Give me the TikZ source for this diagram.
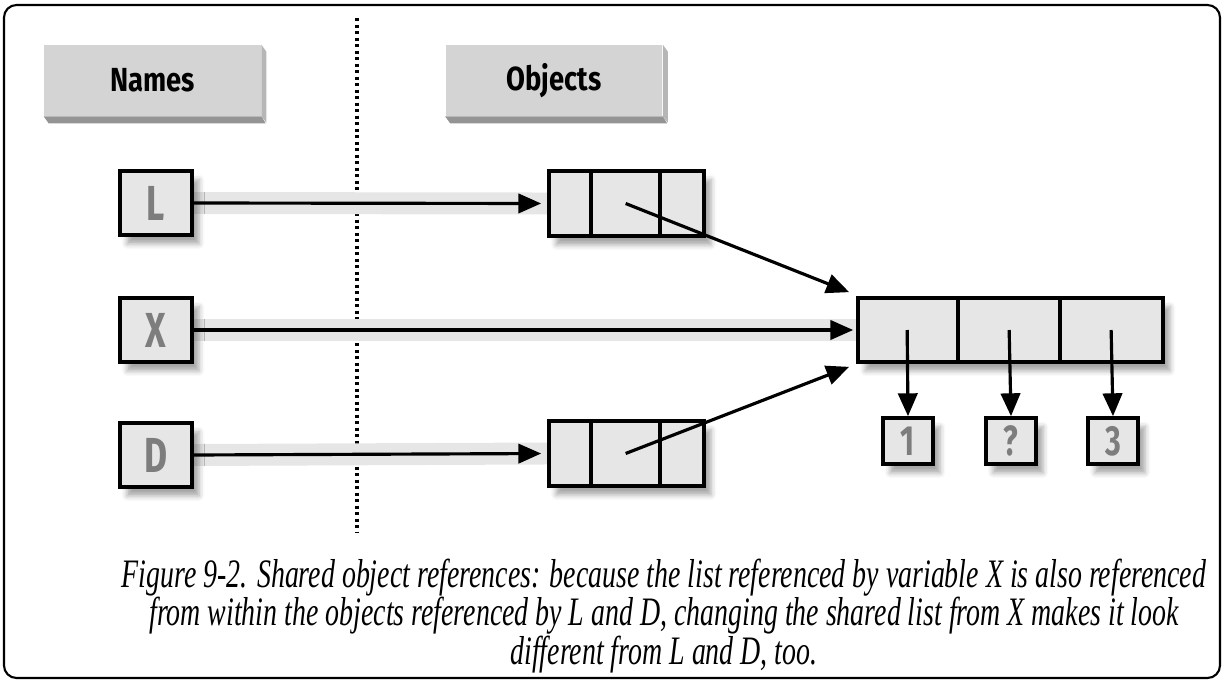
\documentclass[tikz,border=0pt]{standalone}
\usepackage{fontspec}
\newfontfamily\lblfont[FakeStretch=0.82]{Fira Sans}
\newfontfamily\letfont[FakeStretch=0.72]{Fira Sans}
\newfontfamily\capfont[FakeStretch=0.69]{Liberation Serif}
\usetikzlibrary{arrows.meta,shadows.blur,backgrounds}
\definecolor{cellgray}{HTML}{E6E6E6}
\definecolor{headgray}{HTML}{D4D4D4}
\definecolor{bevelbot}{HTML}{949494}
\definecolor{bevelside}{HTML}{B6B6B6}
\definecolor{lettergray}{HTML}{7D7D7D}
\tikzset{
  header/.style={fill=headgray,minimum width=4.34cm,minimum height=1.42cm,inner sep=0pt,
    font=\lblfont\bfseries\fontsize{19}{20}\selectfont},
  shade box/.style={blur shadow={shadow xshift=4pt,shadow yshift=-5pt,shadow blur radius=3pt,shadow opacity=35}},
  namebox/.style={draw,line width=2.1pt,fill=cellgray,minimum width=1.44cm,minimum height=1.28cm,
    inner sep=0pt,text=lettergray,font=\letfont\bfseries\fontsize{28}{30}\selectfont,shade box},
  listbox/.style={draw,line width=2.1pt,fill=cellgray,inner sep=0pt,shade box},
  valbox/.style={draw,line width=2.1pt,fill=cellgray,minimum width=1.0cm,minimum height=0.92cm,
    inner sep=0pt,text=lettergray,font=\letfont\bfseries\fontsize{24}{26}\selectfont,shade box},
  ptr/.style={line width=1.8pt,-{Triangle[length=13pt,width=11pt]}},
  band/.style={cellgray,line width=12.5pt},
  divider/.style={line width=2.1pt}
}

\begin{document}
\begin{tikzpicture}[x=0.02cm,y=-0.02cm]
  \useasboundingbox (0,0) rectangle (1225,683);
  \draw[line width=1.2pt,rounded corners=0.25cm] (4,5) rectangle (1220,678);

  % headings
  \node[header] (names) at (152.5,80.5) {Names};
  \node[header] (objects) at (554,80.5) {Objects};
  \foreach \h in {names,objects} {
    \fill[bevelside] (\h.north east) -- ++(5,7) -- ++(0,71) -- (\h.south east) -- cycle;
    \fill[bevelbot] (\h.south west) -- ++(5,7) -- ++(217,0) -- (\h.south east) -- cycle;
  }

  % names
  \node[namebox] (L) at (156,203) {L};
  \node[namebox] (X) at (156,330) {X};
  \node[namebox] (D) at (156,455) {D};

  % objects
  \node[listbox,minimum width=3.1cm,minimum height=1.3cm] (lobj) at (626.5,203.5) {};
  \node[listbox,minimum width=3.1cm,minimum height=1.3cm] (dobj) at (626.5,453.5) {};
  \node[listbox,minimum width=6.1cm,minimum height=1.28cm] (xobj) at (1010.5,330) {};
  \foreach \o in {lobj,dobj}
    \foreach \dx in {0.88,2.26}
      \draw[divider] ([xshift=\dx cm]\o.north west) -- ([xshift=\dx cm]\o.south west);
  \foreach \dx in {2.04,4.08}
    \draw[divider] ([xshift=\dx cm]xobj.north west) -- ([xshift=\dx cm]xobj.south west);

  \node[valbox] (v1) at (908,441) {1};
  \node[valbox] (v2) at (1011,441) {?};
  \node[valbox] (v3) at (1113,441) {3};

  \coordinate (lptr) at ([xshift=1.57cm]lobj.west);
  \coordinate (dptr) at ([xshift=1.57cm]dobj.west);
  \coordinate (divtop) at (357,18);
  \coordinate (divbot) at (357,533);

  \begin{pgfonlayer}{background}
    \draw[line width=2.2pt,dash pattern=on 1.8pt off 1.9pt] (divtop) -- (divbot);
    \draw[band] (L.east) -- (lobj.west);
    \draw[band] (X.east) -- (xobj.west);
    \draw[band] (D.east) -- (dobj.west);
  \end{pgfonlayer}

  % references
  \draw[ptr,shorten >=0.12cm] (L.east) -- (lobj.west);
  \draw[ptr,shorten >=0.06cm] (X.east) -- (xobj.west);
  \draw[ptr,shorten >=0.12cm] (D.east) -- (dobj.west);
  \draw[ptr] (lptr) -- ([shift={(-0.14cm,0.08cm)}]xobj.north west);
  \draw[ptr] (dptr) -- ([shift={(-0.14cm,-0.06cm)}]xobj.south west);
  \foreach \i/\dx in {1/1.02,2/3.06,3/5.1}
    \draw[ptr] ([xshift=\dx cm]xobj.west) -- (v\i.north);

  % caption
  \node[align=center,font=\capfont\itshape\fontsize{23}{20.5}\selectfont] (cap) at (664,616)
    {Figure 9-2. Shared object references: because the list referenced by variable X is also referenced\\
     from within the objects referenced by L and D, changing the shared list from X makes it look\\
     different from L and D, too.};
\end{tikzpicture}
\end{document}
